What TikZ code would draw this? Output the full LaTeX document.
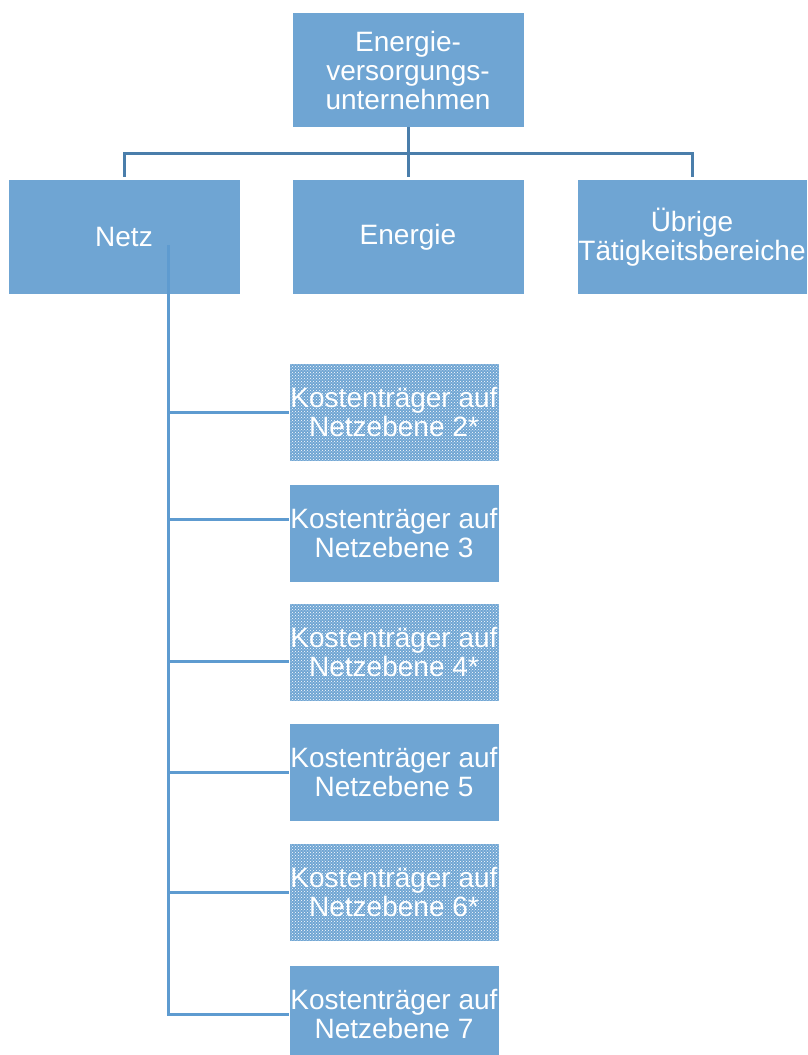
\documentclass[tikz,border=0pt]{standalone}
\usepackage{fontspec}
\setmainfont{Liberation Sans}
\usetikzlibrary{patterns}
\definecolor{boxblue}{HTML}{6FA5D3}
\definecolor{barblue}{HTML}{4A7EAB}
\definecolor{trunkblue}{HTML}{5E9BD0}

\begin{document}
\begin{tikzpicture}[x=1pt, y=-1pt,
  orgbox/.style={fill=boxblue, text=white, align=center, inner sep=0pt,
    font=\fontsize{28}{29}\selectfont},
  topbox/.style={orgbox, minimum width=231pt, minimum height=114pt},
  kostbox/.style={orgbox, minimum width=209pt, minimum height=97pt},
  patternbox/.style={kostbox, preaction={fill=boxblue},
    pattern=crosshatch dots, pattern color=white},
  barline/.style={draw=barblue, line width=3pt},
  trunkline/.style={draw=trunkblue, line width=3pt}]

  \useasboundingbox (0,0) rectangle (807,1055);

  % obere Ebene
  \node[topbox] (evu) at (408,70) {Energie-\\versorgungs-\\unternehmen};
  \node[topbox] (netz) at (124,237) {Netz};
  \node[topbox] (energie) at (408,237) {Energie};
  \node[topbox, minimum width=229pt] (uebrig) at (692,237) {Übrige\\Tätigkeitsbereiche};

  \coordinate (bar) at (408,153);
  \draw[barline] (evu.south) -- ([yshift=3pt]energie.north);
  \draw[barline] ([yshift=3pt]netz.north) |- (bar) -| ([yshift=3pt]uebrig.north);

  % Kostenträger je Netzebene
  \coordinate (trunktop) at (168,245);
  \foreach \ylev/\lvl/\look/\off [count=\i] in {
    412/2*/patternbox/0,
    533/3/kostbox/14,
    652/4*/patternbox/-9,
    772/5/kostbox/0,
    892/6*/patternbox/0,
    1014/7/kostbox/0
  }{
    \node[\look] (kt\i) at (394,\ylev) {Kostenträger auf\\Netzebene \lvl};
    \coordinate (br\i) at ([yshift=\off pt]kt\i.west);
    \draw[trunkline] (trunktop |- br\i) -- (br\i);
  }
  \draw[trunkline] (trunktop) -- ([yshift=-1.5pt]trunktop |- br6);

\end{tikzpicture}
\end{document}
